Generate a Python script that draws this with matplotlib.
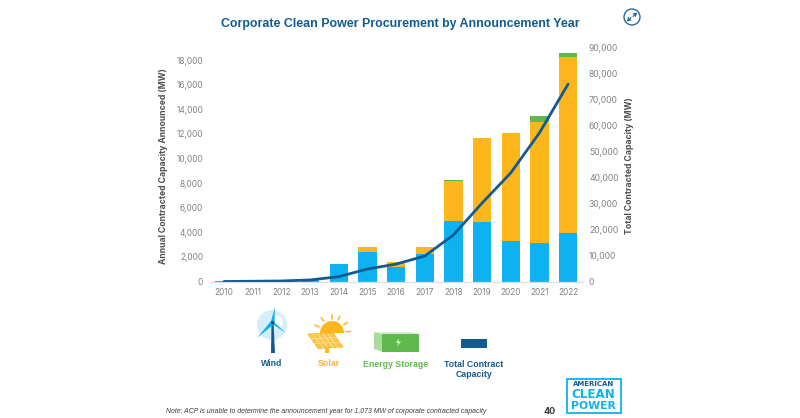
import numpy as np
import matplotlib
matplotlib.use('Agg')
import matplotlib.pyplot as plt
from matplotlib.patches import Circle, Polygon, Rectangle, Wedge

plt.rcParams['font.family'] = ['Inter', 'Liberation Sans', 'DejaVu Sans']

years = [2010, 2011, 2012, 2013, 2014, 2015, 2016, 2017, 2018, 2019, 2020, 2021, 2022]
wind = [50, 0, 0, 180, 1420, 2420, 1150, 2210, 4940, 4835, 3265, 3100, 3915]
solar = [0, 0, 0, 0, 0, 410, 400, 570, 3250, 6805, 8805, 9860, 14355]
storage = [0, 0, 0, 0, 0, 0, 0, 0, 80, 60, 0, 510, 270]
total = [0, 100, 200, 600, 1850, 4800, 6700, 9800, 17900, 30200, 41800, 57200, 76000]

left_ticks = [0, 2000, 4000, 6000, 8000, 10000, 12000, 14000, 16000, 18000]
right_ticks = [0, 10000, 20000, 30000, 40000, 50000, 60000, 70000, 80000, 90000]

BLUE = '#0fb2f0'
ORANGE = '#fdb71c'
GREEN = '#5fb94c'
NAVY = '#125b92'
GREY = '#808285'
LABEL = '#4d4f52'
SANS = 'Liberation Sans'

W, H = 800, 418
fig = plt.figure(figsize=(8, 4.18), dpi=100, facecolor='white')

# axes box in pixels of the picture
x0, x1, ytop, ybot = 210, 583, 47.7, 281.5
ax = fig.add_axes([x0 / W, 1 - ybot / H, (x1 - x0) / W, (ybot - ytop) / H])
ax2 = ax.twinx()

wind_a = np.array(wind)
solar_a = np.array(solar)
storage_a = np.array(storage)
bar_w = 0.64
ax.bar(years, wind_a, bar_w, color=BLUE)
ax.bar(years, solar_a, bar_w, bottom=wind_a, color=ORANGE)
ax.bar(years, storage_a, bar_w, bottom=wind_a + solar_a, color=GREEN)
ax.set_xlim(2009.51, 2022.52)
ax.set_ylim(0, 19000)
ax.set_xticks(years)
ax.set_yticks(left_ticks)
ax.set_yticklabels([f'{v:,}' for v in left_ticks])
ax.tick_params(axis='both', length=0, labelsize=6.0, labelcolor=GREY)
ax.tick_params(axis='y', pad=5)
ax.tick_params(axis='x', pad=4.5)

ax2.plot(years, total, color=NAVY, lw=2.0, solid_capstyle='round', solid_joinstyle='round')
ax2.set_ylim(0, 90000)
ax2.set_yticks(right_ticks)
ax2.set_yticklabels([f'{v:,}' for v in right_ticks])
ax2.tick_params(axis='y', length=0, labelsize=6.2, labelcolor=GREY, pad=4.3)

for a in (ax, ax2):
    for side in ('top', 'left', 'right'):
        a.spines[side].set_visible(False)
    a.spines['bottom'].set_color('#dcdddf')
    a.spines['bottom'].set_linewidth(0.8)

# everything around the chart is placed in picture pixels
ov = fig.add_axes([0, 0, 1, 1], zorder=5)
ov.set_xlim(0, W)
ov.set_ylim(H, 0)
ov.axis('off')
ov.patch.set_alpha(0)

ov.text(400.5, 24.5, 'Corporate Clean Power Procurement by Announcement Year', color=NAVY,
        fontsize=8.9, fontweight='bold', family=SANS, ha='center', va='center')
ov.text(163, 166, 'Annual Contracted Capacity Announced (MW)', color=LABEL, fontsize=6.2,
        fontweight='bold', rotation=90, ha='center', va='center')
ov.text(630, 166, 'Total Contracted Capacity (MW)', color=LABEL, fontsize=6.2,
        fontweight='bold', rotation=90, ha='center', va='center')

# expand button
ov.add_patch(Circle((632, 17), 8, fc='white', ec=NAVY, lw=0.9))
arrow = dict(arrowstyle='->,head_width=0.12,head_length=0.2', color=NAVY, lw=0.8, shrinkA=0, shrinkB=0)
ov.annotate('', (637, 12.5), (633, 16.5), arrowprops=arrow)
ov.annotate('', (627, 21.5), (631, 17.5), arrowprops=arrow)

# wind icon
ov.add_patch(Circle((272, 325), 15, fc='#d5eef9', ec='none'))
ov.add_patch(Circle((277, 322), 6, fc='white', ec='none'))
ov.add_patch(Polygon([[271.5, 322], [273.5, 322], [275, 353], [271, 353]], fc=NAVY, ec='none'))
ov.add_patch(Polygon([[270.8, 322], [274.5, 322], [275, 307]], fc=BLUE, ec='none'))
ov.add_patch(Polygon([[272.5, 320.5], [273.8, 325], [285.7, 333]], fc=BLUE, ec='none'))
ov.add_patch(Polygon([[271.5, 320.5], [273, 325], [257, 338]], fc=BLUE, ec='none'))
ov.add_patch(Circle((272.7, 322.7), 1.8, fc=NAVY, ec='none'))

# solar icon
ov.add_patch(Wedge((332, 333), 12, 180, 360, fc=ORANGE, ec='none'))
for ang in (5, 35, 65, 90, 125, 155):
    r = np.radians(ang)
    ov.plot([332 + 14.5 * np.cos(r), 332 + 18.5 * np.cos(r)], [333 - 14.5 * np.sin(r), 333 - 18.5 * np.sin(r)],
            color=ORANGE, lw=1.1)
ov.add_patch(Rectangle((325, 347), 3.8, 6, fc=ORANGE, ec='none'))
ov.add_patch(Polygon([[308, 334], [333, 333], [343, 347], [318, 348.5]], fc='#fdc34a', ec=ORANGE, lw=0.6))
for k in range(1, 5):
    ov.plot([308 + 5 * k, 318 + 5 * k], [334, 348], color='#ffe6b0', lw=0.5)
for k in (1, 2):
    ov.plot([308 + 10 * k / 3, 333 + 10 * k / 3], [334 + 14 * k / 3, 333 + 14 * k / 3], color='#ffe6b0', lw=0.5)

# storage icon
ov.add_patch(Polygon([[374, 332], [382, 334], [382, 351.5], [374, 349]], fc='#a9dc9c', ec='none'))
ov.add_patch(Polygon([[374, 332], [382, 334], [418.5, 334], [411, 332]], fc='#cfeec6', ec='none'))
ov.add_patch(Rectangle((382, 334), 36.5, 17.5, fc=GREEN, ec='none'))
ov.add_patch(Polygon([[399, 338], [396, 343], [398.5, 343], [397, 347], [401, 341.5], [398.5, 341.5]], fc='#d9f2d2', ec='none'))

# total capacity swatch
ov.add_patch(Rectangle((460.7, 339), 26, 9, fc=NAVY, ec='none'))

legend_font = dict(fontsize=6.3, fontweight='bold', family=SANS, ha='center', va='center')
ov.text(271.5, 363.5, 'Wind', color=NAVY, **legend_font)
ov.text(328.7, 363.5, 'Solar', color=ORANGE, **legend_font)
ov.text(396, 364.5, 'Energy Storage', color=GREEN, **legend_font)
ov.text(474, 364.5, 'Total Contract', color=NAVY, **legend_font)
ov.text(474, 374.5, 'Capacity', color=NAVY, **legend_font)

ov.text(166.5, 411.5, 'Note: ACP is unable to determine the announcement year for 1,073 MW of corporate contracted capacity',
        color='#3c3c3c', fontsize=4.95, style='italic', family=SANS, ha='left', va='center')
ov.text(549.5, 411, '40', color='#3c3c3c', fontsize=6.5, fontweight='bold', ha='center', va='center')

# logo
ov.add_patch(Rectangle((566.5, 378.5), 54, 34.5, fc='white', ec=BLUE, lw=1.3))
ov.text(593.5, 384.5, 'AMERICAN', color=NAVY, fontsize=5.0, fontweight='bold', family='DejaVu Sans', ha='center', va='center')
ov.text(593.5, 394.5, 'CLEAN', color=BLUE, fontsize=8.6, fontweight='bold', family='DejaVu Sans', ha='center', va='center')
ov.text(593.5, 405.7, 'POWER', color=BLUE, fontsize=7.8, fontweight='bold', family='DejaVu Sans', ha='center', va='center')

fig.savefig('out.png', dpi=100)
